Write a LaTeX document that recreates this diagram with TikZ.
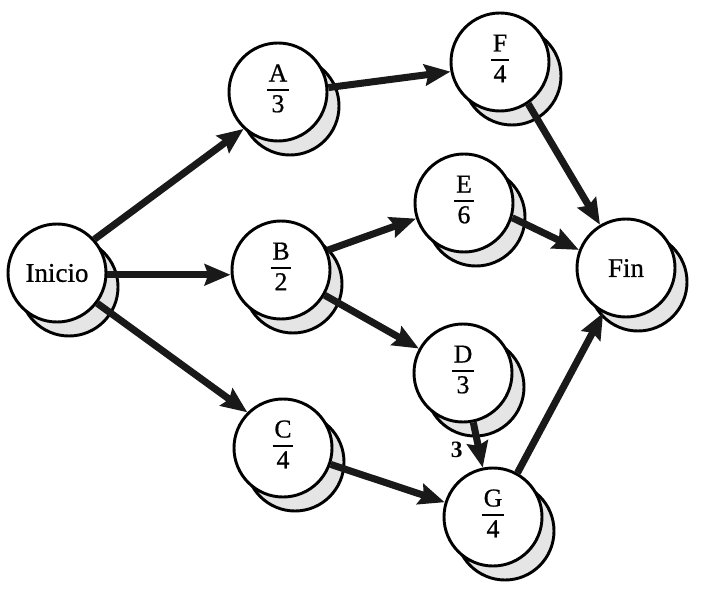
\documentclass[tikz,border=0pt]{standalone}
\usepackage{fontspec}
\setmainfont{Liberation Serif}
\newfontfamily\nodefont{Liberation Serif}[FakeBold=0.7]
\usetikzlibrary{arrows.meta,shadows}
\newcommand{\frc}[2]{{\setlength{\arrayrulewidth}{1.5pt}\renewcommand{\arraystretch}{0.8}\begin{tabular}{@{\hspace{1.5pt}}c@{\hspace{1.5pt}}}#1\\\hline\rule{0pt}{18.5pt}#2\end{tabular}}}
\tikzset{
  act/.style={circle, draw=black, fill=white, line width=2.5pt, minimum size=2.94cm, inner sep=0pt,
    font=\nodefont\fontsize{22}{26}\selectfont,
    copy shadow={shadow xshift=0.36cm, shadow yshift=-0.42cm, fill=black!10, draw=black, line width=2.5pt}},
  endnode/.style={act, font=\nodefont\fontsize{23}{27}\selectfont},
  arr/.style={line width=6pt, draw=black!90, -{Stealth[length=22pt,width=18pt,inset=3pt]}},
  lbl/.style={font=\bfseries\fontsize{20}{22}\selectfont, inner sep=1pt}
}
\begin{document}
\begin{tikzpicture}[x=0.03cm, y=-0.03cm]
\fill[white] (0,0) rectangle (704,600);
\useasboundingbox (0,0) rectangle (704,600);
\node[endnode] (Inicio) at (57,273) {Inicio};
\node[act] (A) at (278,92) {\frc{A}{3}};
\node[act] (B) at (281,270) {\frc{B}{2}};
\node[act] (C) at (283,448) {\frc{C}{4}};
\node[act] (F) at (500,62) {\frc{F}{4}};
\node[act] (E) at (464,203) {\frc{E}{6}};
\node[act] (D) at (463,373) {\frc{D}{3}};
\node[act] (G) at (493,517) {\frc{G}{4}};
\node[endnode] (Fin) at (626,268) {Fin};

\draw[arr] (Inicio.42) -- (A.227);
\draw[arr] (Inicio.-2) -- (Inicio.-2 -| B.west);
\draw[arr] (Inicio.-37) -- (C.135);
\draw[arr] (A.5) -- (F.191);
\draw[arr] (B.23) -- (E.198);
\draw[arr] (B.-30) -- (D.151);
\draw[arr] (C.-19) -- (G.163);
\draw[arr] (D) -- node[lbl, pos=0.6, left=10pt] (l3) {3} (G);
\draw[arr] (G.61) -- (Fin.243);
\draw[arr] (E.-17) -- (Fin.159);
\draw[arr] (F.-56) -- (Fin.121);
\end{tikzpicture}
\end{document}
